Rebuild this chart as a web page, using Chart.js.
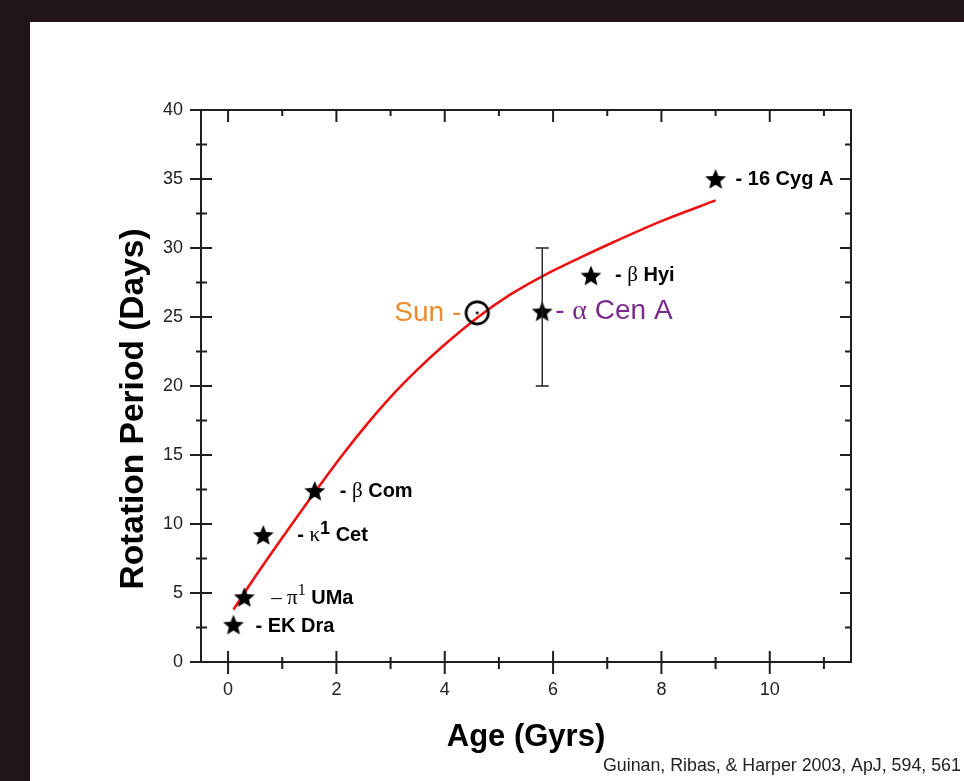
<!DOCTYPE html>
<html>
<head>
<meta charset="utf-8">
<title>Rotation Period vs Age</title>
<script src="https://cdn.jsdelivr.net/npm/chart.js@4.4.1/dist/chart.umd.min.js"></script>
<style>
  html,body{margin:0;padding:0;background:#201618;}
  #wrap{position:relative;width:964px;height:781px;}
</style>
</head>
<body>
<div id="wrap"><canvas id="rot" width="964" height="781"></canvas></div>
<script>
// solar-type stars (Guinan, Ribas & Harper 2003)
var starNames=['EK Dra','π1 UMa','κ1 Cet','β Com','β Hyi','16 Cyg A'];
var starAge=[0.1,0.3,0.65,1.6,6.7,9.0];
var starPeriod=[2.7,4.7,9.2,12.4,28.0,35.0];
var sunAge=[4.6],sunPeriod=[25.3];
var cenAge=[5.8],cenPeriod=[25.4],cenLow=[20],cenHigh=[30];
// red fit curve
var fitAge=[0.1,0.3,0.6,1.0,1.6,2.1,2.6,3.0,3.5,4.0,4.6,5.2,5.8,6.5,7.1,8.0,9.0];
var fitPeriod=[3.8,5.0,6.75,9.0,12.3,14.95,17.4,19.2,21.2,23.0,24.95,26.6,27.95,29.3,30.4,31.95,33.45];
var xTicks=[0,2,4,6,8,10],xMinor=[1,3,5,7,9,11];
var yTicks=[0,5,10,15,20,25,30,35,40],yMinor=[2.5,7.5,12.5,17.5,22.5,27.5,32.5,37.5];

(function(){
  var SANS="'Liberation Sans', Arial, sans-serif";
  var SERIF="'Liberation Serif', 'Times New Roman', serif";
  var INK='#1e1e1e';

  function pts(xs,ys){return xs.map(function(x,i){return {x:x,y:ys[i]};});}

  // filled five-point star marker
  var starImg=document.createElement('canvas');
  starImg.width=starImg.height=26;
  (function(){
    var c=starImg.getContext('2d'),R=11,r=4.9;
    c.beginPath();
    for(var i=0;i<10;i++){
      var a=-Math.PI/2+i*Math.PI/5,rr=i%2?r:R;
      c.lineTo(13+rr*Math.cos(a),13.9+rr*Math.sin(a));
    }
    c.closePath();c.fillStyle='#000';c.fill();
  })();

  // solar symbol
  var sunImg=document.createElement('canvas');
  sunImg.width=sunImg.height=30;
  (function(){
    var c=sunImg.getContext('2d');
    c.lineWidth=2.7;c.strokeStyle='#000';
    c.beginPath();c.arc(15,15,11.2,0,Math.PI*2);c.stroke();
    c.beginPath();c.arc(15,15,1.5,0,Math.PI*2);c.fillStyle='#000';c.fill();
  })();

  // label placement next to each star (same order as starNames)
  var labelLayout=[
    {dx:22,dy:2,dash:'bold'},
    {dx:27,dy:1,dash:'serif',sup:'serif'},
    {dx:34,dy:0,dash:'bold',sup:'bold'},
    {dx:25,dy:1,dash:'bold'},
    {dx:24,dy:0,dash:'bold'},
    {dx:20,dy:0,dash:'bold'}
  ];

  function drawParts(ctx,x,y,parts){
    parts.forEach(function(p){
      ctx.font=p.font;ctx.fillStyle=p.color||'#000';
      ctx.fillText(p.text,x,y+(p.dy||0));
      x+=ctx.measureText(p.text).width;
    });
    return x;
  }

  var decor={
    id:'decor',
    beforeDraw:function(ch){
      var ctx=ch.ctx;
      ctx.save();
      ctx.fillStyle='#201618';ctx.fillRect(0,0,ch.width,ch.height);
      ctx.fillStyle='#fff';ctx.fillRect(30,22,ch.width-30,ch.height-22);
      ctx.restore();
    },
    afterDatasetsDraw:function(ch){
      var ctx=ch.ctx,xs=ch.scales.x,ys=ch.scales.y,a=ch.chartArea;
      ctx.save();
      // frame
      ctx.strokeStyle=INK;ctx.lineWidth=2;
      ctx.strokeRect(a.left,a.top,a.right-a.left,a.bottom-a.top);
      ctx.beginPath();
      xTicks.forEach(function(v){var p=xs.getPixelForValue(v);
        ctx.moveTo(p,a.bottom-11);ctx.lineTo(p,a.bottom+12);
        ctx.moveTo(p,a.top);ctx.lineTo(p,a.top+12);});
      xMinor.forEach(function(v){var p=xs.getPixelForValue(v);
        ctx.moveTo(p,a.bottom-5);ctx.lineTo(p,a.bottom+7);
        ctx.moveTo(p,a.top);ctx.lineTo(p,a.top+6);});
      yTicks.forEach(function(v){var p=ys.getPixelForValue(v);
        ctx.moveTo(a.left-11,p);ctx.lineTo(a.left+11,p);
        ctx.moveTo(a.right,p);ctx.lineTo(a.right-11,p);});
      yMinor.forEach(function(v){var p=ys.getPixelForValue(v);
        ctx.moveTo(a.left-5,p);ctx.lineTo(a.left+6,p);
        ctx.moveTo(a.right,p);ctx.lineTo(a.right-6,p);});
      ctx.stroke();

      // alpha Cen A error bar
      ctx.lineWidth=1.4;ctx.strokeStyle='#222';
      ctx.beginPath();
      cenAge.forEach(function(t,i){
        var px=xs.getPixelForValue(t),lo=ys.getPixelForValue(cenLow[i]),hi=ys.getPixelForValue(cenHigh[i]);
        ctx.moveTo(px,lo);ctx.lineTo(px,hi);
        ctx.moveTo(px-6.5,lo);ctx.lineTo(px+6.5,lo);
        ctx.moveTo(px-6.5,hi);ctx.lineTo(px+6.5,hi);
      });
      ctx.stroke();

      // star labels
      ctx.textBaseline='middle';ctx.textAlign='left';
      var B='bold 20px '+SANS,G='21px '+SERIF;
      starNames.forEach(function(name,i){
        var L=labelLayout[i];
        var x=xs.getPixelForValue(starAge[i])+L.dx,y=ys.getPixelForValue(starPeriod[i])+L.dy;
        var sp=name.indexOf(' '),first=name.slice(0,sp),rest=name.slice(sp);
        var parts=[];
        parts.push(L.dash==='serif'?{text:'– ',font:G}:{text:'- ',font:B});
        if(/^[α-ω]/.test(first)){
          parts.push({text:first[0],font:G});
          var sup=first.slice(1);
          if(sup){parts.push(L.sup==='serif'?{text:sup,font:'16px '+SERIF,dy:-7}:{text:sup,font:'bold 18px '+SANS,dy:-6});}
          parts.push({text:rest,font:B});
        }else{
          parts.push({text:name,font:B});
        }
        drawParts(ctx,x,y,parts);
      });

      // Sun and alpha Cen A labels
      var sx=xs.getPixelForValue(sunAge[0]),sy=ys.getPixelForValue(sunPeriod[0]);
      ctx.font='28px '+SANS;ctx.fillStyle='#ef8b2f';ctx.textAlign='right';
      ctx.fillText('Sun -',sx-16,sy);
      ctx.textAlign='left';
      var cx=xs.getPixelForValue(cenAge[0])+13,cy=ys.getPixelForValue(cenPeriod[0]);
      drawParts(ctx,cx,cy,[
        {text:'- ',font:'28px '+SANS,color:'#7a2a8c'},
        {text:'α',font:'28px '+SERIF,color:'#7a2a8c'},
        {text:' Cen A',font:'28px '+SANS,color:'#7a2a8c'}
      ]);

      // axis titles and citation
      ctx.fillStyle='#000';ctx.textAlign='center';
      ctx.font='bold 31px '+SANS;
      ctx.fillText('Age (Gyrs)',(a.left+a.right)/2,737);
      ctx.save();
      ctx.translate(134,409);ctx.rotate(-Math.PI/2);
      ctx.font='bold 33.5px '+SANS;
      ctx.fillText('Rotation Period (Days)',0,0);
      ctx.restore();
      ctx.textAlign='left';ctx.font='17.8px '+SANS;ctx.fillStyle='#222';
      ctx.fillText('Guinan, Ribas, & Harper 2003, ApJ, 594, 561',603,766);
      ctx.restore();
    }
  };

  var tickFont={family:SANS,size:18};
  new Chart(document.getElementById('rot').getContext('2d'),{
    type:'scatter',
    data:{datasets:[
      {label:'fit',data:pts(fitAge,fitPeriod),showLine:true,borderColor:'#ee1111',borderWidth:2.6,
        pointRadius:0,cubicInterpolationMode:'monotone',order:3},
      {label:'stars',data:pts(starAge,starPeriod),pointStyle:starImg,pointRadius:10,order:1},
      {label:'α Cen A',data:pts(cenAge,cenPeriod),pointStyle:starImg,pointRadius:10,order:1},
      {label:'Sun',data:pts(sunAge,sunPeriod),pointStyle:sunImg,pointRadius:12,order:2}
    ]},
    options:{
      responsive:false,animation:false,
      layout:{padding:{left:141,top:110,right:113,bottom:79}},
      plugins:{legend:{display:false},tooltip:{enabled:false}},
      scales:{
        x:{type:'linear',min:-0.5,max:11.5,
          afterBuildTicks:function(s){s.ticks=xTicks.map(function(v){return {value:v};});},
          afterFit:function(s){s.height=40;},
          grid:{display:false,drawTicks:false},border:{display:false},
          ticks:{font:tickFont,color:'#222',padding:17,maxRotation:0}},
        y:{type:'linear',min:0,max:40,
          afterBuildTicks:function(s){s.ticks=yTicks.map(function(v){return {value:v};});},
          afterFit:function(s){s.width=60;},
          grid:{display:false,drawTicks:false},border:{display:false},
          ticks:{font:tickFont,color:'#222',padding:18}}
      }
    },
    plugins:[decor]
  });
})();
</script>
</body>
</html>
